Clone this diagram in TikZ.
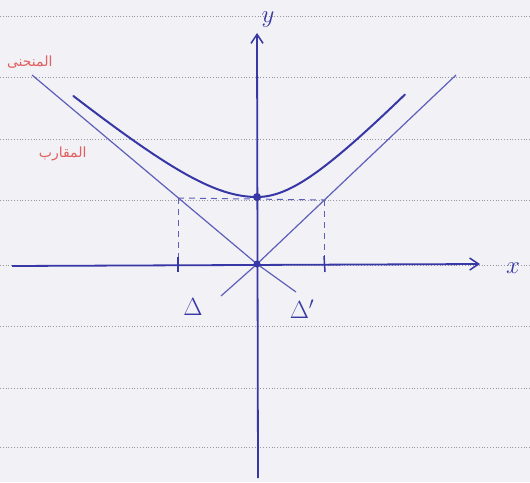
\documentclass[tikz,border=0pt]{standalone}
\usepackage{fontspec}
\newfontfamily\arabicfont[Script=Arabic]{DejaVu Sans}
\TeXXeTstate=1
\usetikzlibrary{arrows.meta}
\definecolor{paper}{RGB}{241,241,246}
\definecolor{ink}{RGB}{55,55,165}
\definecolor{inklight}{RGB}{95,95,185}
\definecolor{rule}{RGB}{150,150,165}
\definecolor{redink}{RGB}{225,95,95}
\tikzset{
  ruled/.style={rule, dotted, line width=0.8pt},
  axis/.style={ink, line width=1.8pt, -{Straight Barb[length=9pt,width=12pt,line width=1.5pt]}},
  asym/.style={inklight, line width=1.2pt},
  curve/.style={ink, line width=2pt, line cap=round},
  guide/.style={inklight, line width=1pt, dash pattern=on 6pt off 5pt},
  tick/.style={ink, line width=1.5pt},
  hand/.style={ink, font=\fontsize{24}{26}\selectfont},
  redlabel/.style={redink, font=\arabicfont\fontsize{14}{16}\selectfont}
}
\begin{document}
\begin{tikzpicture}[x=1pt,y=-1pt]
\fill[paper] (0,0) rectangle (530,482);
\useasboundingbox (0,0) rectangle (530,482);
% ruled lines
\foreach \yy in {16,77,139,200,265,326,388,447}
  \draw[ruled] (0,\yy) -- (530,\yy);
% coordinates
\coordinate (O) at (257,264);
\coordinate (V) at (257,197);
\coordinate (A1) at (32,75);
\coordinate (A1e) at (296,292);
\coordinate (A2) at (456,75);
\coordinate (A2e) at (221,296);
\coordinate (P) at (178,198);
\coordinate (Q) at (324,200);
\coordinate (Pb) at (178,264);
\coordinate (Qb) at (324,264);
% asymptotes
\draw[asym] (A1) -- (O) -- (A1e);
\draw[asym] (A2) -- (O) -- (A2e);
% dashed guides
\draw[guide] (P) -- (Q);
\draw[guide] (P) -- (Pb);
\draw[guide] (Q) -- (Qb);
% axes
\draw[axis] (12,266) -- (480,264);
\draw[axis] (258,478) -- (257,33);
% ticks
\draw[tick] (178,257) -- (178,272);
\draw[tick] (324,256) -- (325,272);
% hyperbola
\draw[curve] plot[domain=-1.58:0, samples=40, smooth] ({257+79*(exp(\x)-exp(-\x))/2},{263-66*(exp(\x)+exp(-\x))/2});
\draw[curve] plot[domain=0:1.59, samples=40, smooth] ({257+63*(exp(\x)-exp(-\x))/2},{263-66*(exp(\x)+exp(-\x))/2});
% points
\fill[ink] (V) circle (4);
\fill[ink] (O) circle (3.5);
% labels
\node[hand] (ylab) at (268,20) {$y$};
\node[hand] (xlab) at (513,268) {$x$};
\node[hand] (d1) at (193,307) {$\Delta$};
\node[hand] (d2) at (302,309) {$\Delta'$};
\node[redlabel, anchor=east] (l1) at (56,62) {\beginR المنحنى\endR};
\node[redlabel, anchor=east] (l2) at (90,154) {\beginR المقارب\endR};
\end{tikzpicture}
\end{document}
